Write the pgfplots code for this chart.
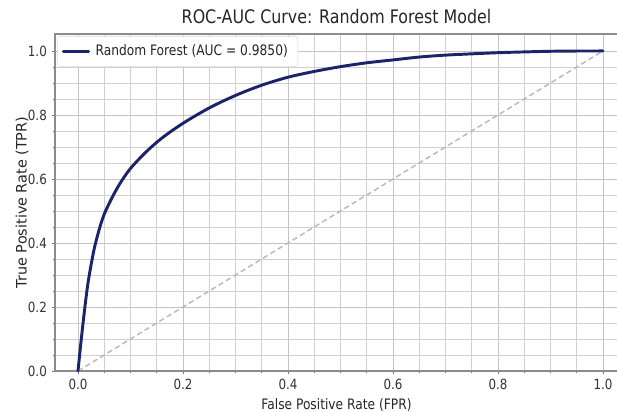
\documentclass[border=0pt]{standalone}
\usepackage{pgfplots}
\pgfplotsset{compat=1.18}
\usepackage{fontspec}
\setmainfont{DejaVu Sans}[FakeStretch=0.85]
\newfontfamily\uprightlab{DejaVu Sans}
\definecolor{rfnavy}{RGB}{27,36,104}
\definecolor{gridgray}{RGB}{196,196,196}

\begin{document}
\begin{tikzpicture}
\path[use as bounding box] (-41.25pt,-30pt) rectangle (421.5pt,278.25pt);
\begin{axis}[
  at={(0pt,0pt)}, anchor=south west,
  width=422.25pt, height=252.75pt, scale only axis,
  xmin=-0.0438, xmax=1.0286, ymin=0, ymax=1.053,
  xtick={0,0.2,0.4,0.6,0.8,1.0}, ytick={0,0.2,0.4,0.6,0.8,1.0},
  minor tick num=3,
  grid=both,
  major grid style={gridgray, line width=0.6pt},
  minor grid style={gridgray!80, line width=0.5pt},
  tick align=outside, tick pos=left,
  major tick length=2.6pt, minor tick length=1.5pt,
  tick style={black!55, line width=0.5pt},
  axis line style={black!45, line width=0.8pt},
  /pgf/number format/assume math mode=true,
  xticklabel style={/pgf/number format/.cd, fixed, fixed zerofill, precision=1},
  yticklabel style={/pgf/number format/.cd, fixed, fixed zerofill, precision=1},
  ticklabel style={font=\fontsize{10.5}{12}\selectfont, text=black!80},
  xlabel={False Positive Rate (FPR)},
  ylabel={True Positive Rate (TPR)},
  xlabel style={at={(axis description cs:0.5,0)}, anchor=base, yshift=-28.5pt,
    font=\fontsize{10.8}{13}\selectfont, text=black!85},
  ylabel style={at={(axis description cs:-0.0586,0.5)}, anchor=center,
    font=\uprightlab\fontsize{10.8}{13}\selectfont, text=black!85},
  title={ROC-AUC Curve: Random Forest Model},
  title style={at={(axis description cs:0.5,1)}, anchor=base, yshift=1.5pt,
    font=\fontsize{14}{16}\selectfont, text=black!85},
  legend style={at={(axis description cs:0,1)}, anchor=north west,
    xshift=1.5pt, yshift=-1.5pt, draw=black!15, fill=white,
    rounded corners=2pt, font=\fontsize{10.8}{13}\selectfont,
    inner xsep=3.5pt, inner ysep=4.5pt, text=black!85},
  legend cell align=left,
  legend image code/.code={\draw[#1] (0pt,0pt) -- (19pt,0pt);},
  legend style={nodes={inner xsep=4pt}},
]
% chance line
\addplot[gray!55, line width=1.1pt, dash pattern=on 4pt off 2.5pt, forget plot]
  coordinates {(0,0) (1,1)};
% ROC curve
\addplot[rfnavy, line width=2.2pt, line join=round, line cap=round, smooth, tension=0.5]
  coordinates {
  (0,0) (0.005,0.08) (0.010,0.155) (0.015,0.225) (0.02,0.285)
  (0.03,0.375) (0.04,0.44) (0.05,0.49) (0.065,0.542) (0.08,0.586)
  (0.1,0.633) (0.13,0.685) (0.16,0.728) (0.2,0.774) (0.25,0.822) (0.3,0.861)
  (0.35,0.893) (0.4,0.918) (0.45,0.936) (0.5,0.951) (0.55,0.963)
  (0.6,0.972) (0.65,0.981) (0.7,0.987) (0.75,0.991) (0.8,0.9946)
  (0.85,0.997) (0.9,0.999) (0.95,0.9998) (1.0,1.0)
  };
\addlegendentry{Random Forest (AUC = 0.9850)}
\end{axis}
\end{tikzpicture}
\end{document}
